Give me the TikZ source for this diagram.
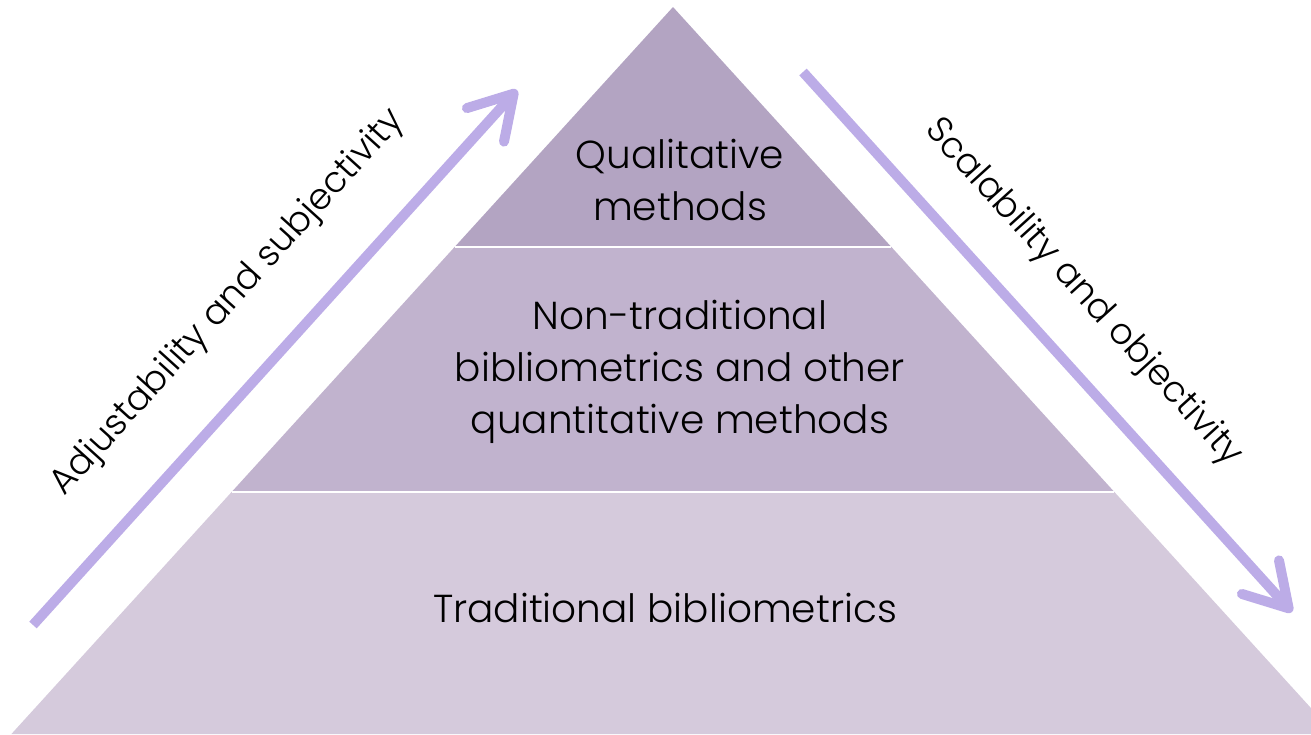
\documentclass[tikz,border=0pt]{standalone}
\usepackage{fontspec}
\setmainfont{Poppins}[UprightFont=* Light]
\usetikzlibrary{arrows.meta}
\definecolor{tierA}{HTML}{B3A4C2}
\definecolor{tierB}{HTML}{C1B3CE}
\definecolor{tierC}{HTML}{D5CADC}
\definecolor{arrowc}{HTML}{BCACE7}
\tikzset{
  tier/.style={draw=white, line width=2pt, line join=miter},
  lbl/.style={align=center, font=\fontsize{39}{52}\selectfont, text=black, inner sep=0pt},
  side/.style={font=\fontsize{36}{40}\selectfont, text=black, inner sep=0pt},
  bigarrow/.style={draw=arrowc, line width=10pt,
    -{Straight Barb[length=42pt, width=50pt, line cap=round, line join=round]}}
}
\begin{document}
\begin{tikzpicture}[x=1pt, y=-1pt]
\useasboundingbox (0,0) rectangle (1311,734);
\clip (0,0) rectangle (1311,734);
% pyramid tiers
\fill[tierC] (231.6,492) -- (1114.4,492) -- (1334.6,734) -- (11.4,734) -- cycle;
\fill[tierB] (454.6,247) -- (891.4,247) -- (1114.4,492) -- (231.6,492) -- cycle;
\fill[tierA] (673,7) -- (891.4,247) -- (454.6,247) -- cycle;
\draw[white, line width=2pt] (454.6,247) -- (891.4,247);
\draw[white, line width=2pt] (231.6,492) -- (1114.4,492);
% labels
\node[lbl] (top) at (680,180) {Qualitative\\methods};
\node[lbl] (mid) at (680,372) {Non-traditional\\bibliometrics and other\\quantitative methods};
\node[lbl] (bot) at (665,608) {Traditional bibliometrics};
% arrows
\coordinate (ls) at (33,625);
\coordinate (le) at (517,90);
\coordinate (rs) at (803,72);
\coordinate (re) at (1292,612);
\draw[bigarrow, line cap=butt] (ls) -- (le);
\draw[bigarrow, line cap=butt] (rs) -- (re);
\node[side, rotate=47.8] (ladj) at (228,303) {Adjustability and subjectivity};
\node[side, rotate=-47.8] (rscal) at (1083,293) {Scalability and objectivity};
\end{tikzpicture}
\end{document}
